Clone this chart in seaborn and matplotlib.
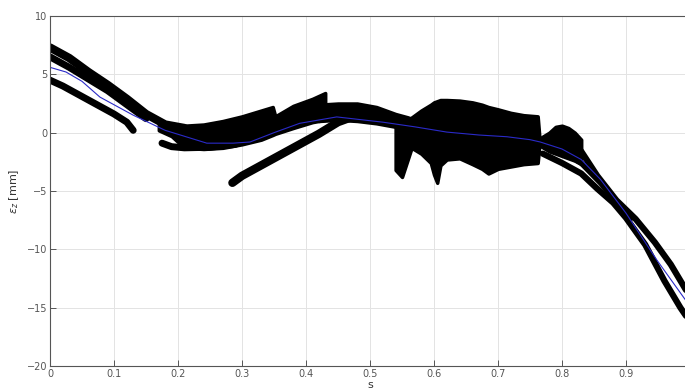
import numpy as np
import pandas as pd
import matplotlib
matplotlib.use("Agg")
import matplotlib.pyplot as plt
import seaborn as sns

# ---- data ----
s1_x = [0, 0.03, 0.06, 0.09, 0.12, 0.15, 0.18, 0.21]
s1_y = [7.3, 6.4, 5.2, 4.1, 2.9, 1.6, 0.7, 0.4]
s2_x = [0, 0.03, 0.06, 0.09, 0.12, 0.15]
s2_y = [6.5, 5.6, 4.6, 3.6, 2.4, 1.2]
s3_x = [0, 0.02, 0.05, 0.08, 0.10, 0.12, 0.13]
s3_y = [4.5, 4.0, 3.1, 2.2, 1.6, 0.9, 0.2]
strip_x = [0.175, 0.19, 0.21, 0.25, 0.29]
strip_y = [-0.9, -1.2, -1.3, -1.25, -1.0]
rise_x = [0.285, 0.30, 0.33, 0.36, 0.39, 0.42, 0.45, 0.48, 0.51, 0.53]
rise_y = [-4.3, -3.7, -2.8, -1.9, -1.0, -0.1, 0.9, 1.5, 1.6, 1.4]
up_x = [0.79, 0.81, 0.83, 0.855, 0.885, 0.915, 0.945, 0.97, 0.995]
up_y = [0.0, -0.6, -1.6, -3.7, -5.8, -7.4, -9.4, -11.3, -13.6]
lo_x = [0.77, 0.80, 0.83, 0.855, 0.88, 0.90, 0.93, 0.96, 0.985, 0.995]
lo_y = [-1.8, -2.6, -3.5, -4.8, -6.0, -7.3, -9.6, -12.7, -15.0, -15.8]
mid_x = [0.77, 0.80, 0.83, 0.86, 0.89, 0.91]
mid_y = [-1.0, -1.6, -2.6, -4.3, -6.2, -7.3]

massA_x = [0.17, 0.19, 0.21, 0.24, 0.27, 0.30, 0.33, 0.348, 0.352, 0.38, 0.41, 0.43]
massA_hi = [0.9, 0.7, 0.6, 0.7, 1.0, 1.4, 1.9, 2.2, 1.4, 2.3, 2.9, 3.4]
massA_lo = [0.2, -0.3, -1.3, -1.4, -1.3, -1.0, -0.6, -0.2, -0.1, 0.4, 0.9, 1.1]
hump_x = [0.42, 0.45, 0.48, 0.51, 0.54, 0.56]
hump_hi = [2.4, 2.5, 2.5, 2.2, 1.6, 1.3]
hump_lo = [1.0, 1.1, 1.0, 0.8, 0.5, 0.3]
blob_x = [0.54, 0.55, 0.565, 0.58, 0.595, 0.60, 0.605, 0.61, 0.62, 0.64, 0.66,
          0.675, 0.685, 0.70, 0.72, 0.74, 0.762, 0.765]
blob_hi = [0.8, 1.0, 1.3, 1.9, 2.4, 2.6, 2.7, 2.8, 2.8, 2.75, 2.6,
           2.4, 2.2, 2.0, 1.7, 1.5, 1.4, -0.6]
blob_lo = [-3.2, -3.8, -1.3, -1.8, -2.6, -3.6, -4.3, -2.8, -2.3, -2.2, -2.7,
           -3.1, -3.5, -3.1, -2.9, -2.7, -2.6, -0.9]
hump2_x = [0.762, 0.78, 0.79, 0.80, 0.81, 0.82, 0.83]
hump2_hi = [-0.6, 0.0, 0.5, 0.6, 0.4, 0.0, -0.6]
hump2_lo = [-1.0, -1.6, -1.8, -2.0, -2.2, -2.4, -2.7]

mean_x = [0, 0.025, 0.05, 0.078, 0.13, 0.18, 0.245, 0.286, 0.3125, 0.35, 0.39, 0.448,
          0.52, 0.57, 0.62, 0.67, 0.714, 0.75, 0.766, 0.80, 0.83, 0.86, 0.9, 0.948, 0.995]
mean_y = [5.6, 5.2, 4.4, 3.05, 1.5, 0.2, -0.9, -0.9, -0.8, 0.0, 0.8, 1.35,
          0.9, 0.5, 0.05, -0.2, -0.35, -0.6, -0.8, -1.4, -2.3, -4.0, -6.9, -10.9, -14.5]

xticks = [0, 0.1, 0.2, 0.3, 0.4, 0.5, 0.6, 0.7, 0.8, 0.9]
yticks = [-20, -15, -10, -5, 0, 5, 10]

sns.set_theme(style="white")
plt.rcParams['font.family'] = ['DejaVu Sans']

fig = plt.figure(figsize=(6.85, 3.9), dpi=100)
ax = fig.add_axes([50 / 685, 24 / 390, 640 / 685, 350 / 390])

gray = "#555555"
ax.grid(True, color="#e3e3e3", linewidth=0.7)
ax.set_axisbelow(True)

for fx, hi, lo in [(massA_x, massA_hi, massA_lo), (hump_x, hump_hi, hump_lo),
                   (blob_x, blob_hi, blob_lo), (hump2_x, hump2_hi, hump2_lo)]:
    ax.fill_between(fx, lo, hi, color="black", linewidth=2.5, edgecolor="black")

for sx, sy, lw in [(s1_x, s1_y, 6), (s2_x, s2_y, 5), (s3_x, s3_y, 5),
                   (strip_x, strip_y, 5), (rise_x, rise_y, 6),
                   (up_x, up_y, 4.5), (lo_x, lo_y, 4.5), (mid_x, mid_y, 4)]:
    sns.lineplot(x=sx, y=sy, sort=False, estimator=None, color="black",
                 linewidth=lw, solid_capstyle="round", ax=ax)

sns.lineplot(x=mean_x, y=mean_y, sort=False, estimator=None, color="#2a2ac8",
             linewidth=0.8, ax=ax)

ax.set_xlim(0, 1)
ax.set_ylim(-20, 10)
ax.set_xticks(xticks)
ax.set_xticklabels([f"{t:g}" for t in xticks])
ax.set_yticks(yticks)
ax.tick_params(direction="in", length=4, width=0.7, colors=gray, labelsize=7,
               top=False, right=False, bottom=True, left=True, pad=2)
for side in ["left", "bottom", "top"]:
    ax.spines[side].set_color(gray)
    ax.spines[side].set_linewidth(0.8)
ax.spines["right"].set_visible(False)
ax.set_xlabel("s", fontsize=8, color="#333333", labelpad=1)
ax.set_ylabel(r"$\epsilon_z$ [mm]", fontsize=8, color="#333333", labelpad=4)

fig.savefig("out.png", dpi=100)
